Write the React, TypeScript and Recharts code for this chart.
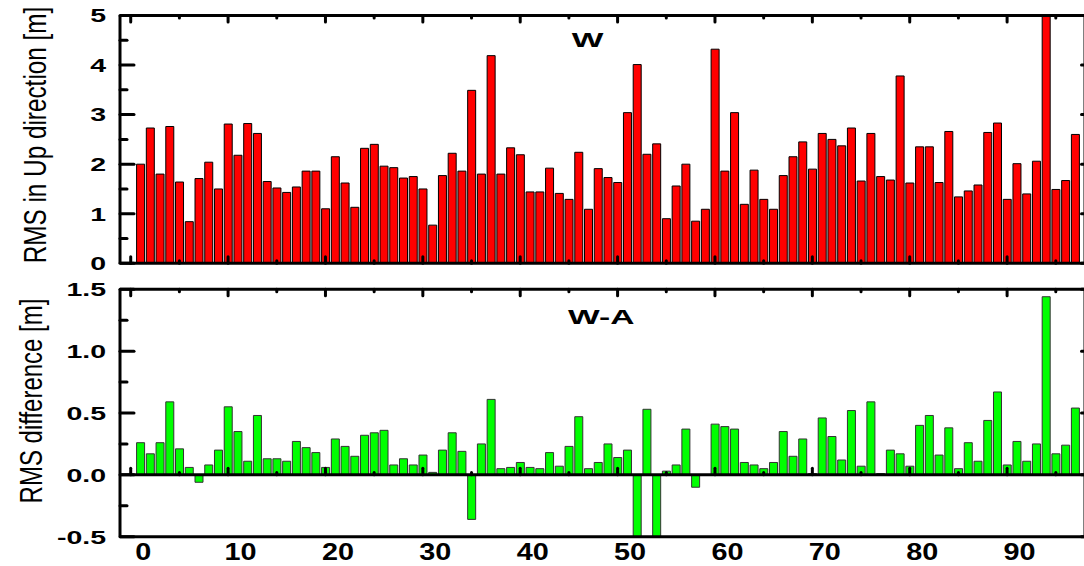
import React from "react";
import { BarChart, Bar, XAxis, YAxis, ReferenceLine } from "recharts";

// RMS in the Up direction, strategy W (one bar per epoch)
const upRms = [
  2.0, 2.73, 1.8, 2.76, 1.64, 0.84, 1.71, 2.04, 1.5, 2.81,
  2.18, 2.82, 2.62, 1.65, 1.52, 1.43, 1.54, 1.86, 1.86, 1.1,
  2.15, 1.62, 1.13, 2.32, 2.4, 1.96, 1.93, 1.72, 1.75, 1.5,
  0.77, 1.77, 2.22, 1.86, 3.49, 1.8, 4.19, 1.8, 2.33, 2.19,
  1.44, 1.44, 1.92, 1.41, 1.29, 2.24, 1.09, 1.91, 1.73, 1.63,
  3.04, 4.01, 2.2, 2.41, 0.9, 1.56, 2.0, 0.85, 1.09, 4.32,
  1.86, 3.04, 1.19, 1.88, 1.29, 1.09, 1.77, 2.15, 2.45, 1.9,
  2.62, 2.5, 2.37, 2.73, 1.66, 2.62, 1.75, 1.68, 3.78, 1.62,
  2.35, 2.35, 1.63, 2.66, 1.34, 1.46, 1.58, 2.64, 2.83, 1.29,
  2.01, 1.4, 2.06, 5.3, 1.49, 1.67, 2.6,
];

// RMS difference W - A
const diffRms = [
  0.26, 0.17, 0.26, 0.59, 0.21, 0.06, -0.06, 0.08, 0.2, 0.55,
  0.35, 0.11, 0.48, 0.13, 0.13, 0.11, 0.27, 0.22, 0.18, 0.06,
  0.29, 0.23, 0.15, 0.32, 0.34, 0.36, 0.08, 0.13, 0.08, 0.16,
  0.02, 0.2, 0.34, 0.19, -0.36, 0.25, 0.61, 0.05, 0.06, 0.1,
  0.06, 0.05, 0.18, 0.07, 0.23, 0.47, 0.05, 0.1, 0.25, 0.14,
  0.2, -0.6, 0.53, -0.6, 0.03, 0.08, 0.37, -0.1, 0.0, 0.41,
  0.39, 0.37, 0.1, 0.08, 0.05, 0.1, 0.35, 0.15, 0.29, 0.01,
  0.46, 0.31, 0.12, 0.52, 0.07, 0.59, 0.01, 0.2, 0.17, 0.07,
  0.4, 0.48, 0.16, 0.38, 0.05, 0.26, 0.11, 0.44, 0.67, 0.08,
  0.27, 0.11, 0.25, 1.44, 0.17, 0.24, 0.54,
];

const epochs = upRms.map((_, i) => i + 1);

const xTicks = [0, 5, 10, 15, 20, 25, 30, 35, 40, 45, 50, 55, 60, 65, 70, 75, 80, 85, 90, 95];
const upTicks = [0, 0.5, 1, 1.5, 2, 2.5, 3, 3.5, 4, 4.5, 5];
const upRightTicks = [0, 1, 2, 3, 4, 5];
const diffTicks = [-0.5, -0.25, 0, 0.25, 0.5, 0.75, 1, 1.25, 1.5];
const diffRightTicks = [-0.5, 0, 0.5, 1, 1.5];

const upData = epochs.map((e, i) => ({ epoch: e, rms: upRms[i] }));
const diffData = epochs.map((e, i) => ({ epoch: e, diff: diffRms[i] }));

const FONT = "'Liberation Sans', Arial, sans-serif";
const ink = { stroke: "#000", strokeWidth: 3, strokeLinecap: "round" as const };
const axisLine = { stroke: "#000", strokeWidth: 3 };
const X_DOMAIN: [number, number] = [-1.1, 98];

const majorX = (v: number) => v % 10 === 0;

const TicksUp = ({ x, y, payload }: any) => (
  <line x1={x} y1={y} x2={x} y2={y - (majorX(payload.value) ? 6.5 : 2.5)} {...ink} />
);

const TicksDown = ({ x, y, payload }: any) => (
  <line x1={x} y1={y} x2={x} y2={y + (majorX(payload.value) ? 6.5 : 2.5)} {...ink} />
);

const XLabel = ({ x, y, payload }: any) =>
  majorX(payload.value) ? (
    <text
      transform={`translate(${x + 12.5},${y + 23}) scale(1.2,1)`}
      textAnchor="middle"
      fontFamily={FONT}
      fontWeight="bold"
      fontSize={24}
      fill="#000"
    >
      {payload.value}
    </text>
  ) : (
    <g />
  );

const leftTick =
  (isMajor: (v: number) => boolean, fmt: (v: number) => string) =>
  ({ x, y, payload }: any) => {
    const v = payload.value;
    const m = isMajor(v);
    return (
      <g>
        <line x1={x} y1={y} x2={x + (m ? 14 : 7)} y2={y} {...ink} />
        {m && (
          <text
            transform={`translate(${x - 14},${y + 6.8}) scale(1.5,1)`}
            textAnchor="end"
            fontFamily={FONT}
            fontWeight="bold"
            fontSize={19}
            fill="#000"
          >
            {fmt(v)}
          </text>
        )}
      </g>
    );
  };

const RightTick = ({ x, y }: any) => <line x1={x} y1={y} x2={x - 3.5} y2={y} {...ink} />;

const upLeftTick = leftTick((v) => Number.isInteger(v), (v) => String(v));
const diffLeftTick = leftTick(
  (v) => Math.abs(v * 2 - Math.round(v * 2)) < 1e-9,
  (v) => v.toFixed(1)
);

export default function App() {
  return (
    <div
      style={{
        position: "absolute",
        left: 0,
        top: 0,
        width: 1084,
        height: 566,
        overflow: "hidden",
        background: "#fff",
      }}
    >
      <div style={{ position: "absolute", left: 0, top: 0 }}>
        <BarChart
          width={1100}
          height={280}
          data={upData}
          margin={{ top: 14.5, right: 0, bottom: 15.7, left: 60 }}
        >
          <XAxis
            dataKey="epoch"
            type="number"
            domain={X_DOMAIN}
            allowDataOverflow
            ticks={xTicks}
            interval={0}
            height={1}
            tickLine={false}
            tickSize={0}
            tickMargin={0}
            axisLine={axisLine}
            tick={TicksUp}
          />
          <XAxis
            xAxisId="top"
            orientation="top"
            dataKey="epoch"
            type="number"
            domain={X_DOMAIN}
            allowDataOverflow
            ticks={xTicks}
            interval={0}
            height={1}
            tickLine={false}
            tickSize={0}
            tickMargin={0}
            axisLine={axisLine}
            tick={TicksDown}
          />
          <YAxis
            type="number"
            domain={[0, 5]}
            allowDataOverflow
            ticks={upTicks}
            interval={0}
            width={60}
            tickLine={false}
            tickSize={0}
            tickMargin={0}
            axisLine={axisLine}
            tick={upLeftTick}
          />
          <YAxis
            yAxisId="right"
            orientation="right"
            type="number"
            domain={[0, 5]}
            allowDataOverflow
            ticks={upRightTicks}
            interval={0}
            width={15}
            tickLine={false}
            tickSize={0}
            tickMargin={0}
            axisLine={axisLine}
            tick={RightTick}
          />
          <Bar
            dataKey="rms"
            fill="#ff0000"
            stroke="#000"
            strokeWidth={1}
            barSize={8}
            isAnimationActive={false}
          />
        </BarChart>
      </div>

      <div style={{ position: "absolute", left: 0, top: 280 }}>
        <BarChart
          width={1100}
          height={286}
          data={diffData}
          margin={{ top: 8.3, right: 0, bottom: 0.3, left: 60 }}
        >
          <XAxis
            dataKey="epoch"
            type="number"
            domain={X_DOMAIN}
            allowDataOverflow
            ticks={xTicks}
            interval={0}
            height={29}
            tickLine={false}
            tickSize={0}
            tickMargin={0}
            axisLine={axisLine}
            tick={XLabel}
          />
          <XAxis
            xAxisId="top"
            orientation="top"
            dataKey="epoch"
            type="number"
            domain={X_DOMAIN}
            allowDataOverflow
            ticks={xTicks}
            interval={0}
            height={1}
            tickLine={false}
            tickSize={0}
            tickMargin={0}
            axisLine={axisLine}
            tick={TicksDown}
          />
          <YAxis
            type="number"
            domain={[-0.5, 1.5]}
            allowDataOverflow
            ticks={diffTicks}
            interval={0}
            width={60}
            tickLine={false}
            tickSize={0}
            tickMargin={0}
            axisLine={axisLine}
            tick={diffLeftTick}
          />
          <YAxis
            yAxisId="right"
            orientation="right"
            type="number"
            domain={[-0.5, 1.5]}
            allowDataOverflow
            ticks={diffRightTicks}
            interval={0}
            width={15}
            tickLine={false}
            tickSize={0}
            tickMargin={0}
            axisLine={axisLine}
            tick={RightTick}
          />
          <Bar
            dataKey="diff"
            fill="#00ff00"
            stroke="#333"
            strokeWidth={1}
            barSize={8}
            isAnimationActive={false}
          />
          <ReferenceLine y={0} stroke="#000" strokeWidth={3} />
          {xTicks.map((t) => (
            <ReferenceLine
              key={t}
              segment={[
                { x: t, y: 0 },
                { x: t, y: majorX(t) ? 0.053 : 0.02 },
              ]}
              stroke="#000"
              strokeWidth={3}
              strokeLinecap="round"
            />
          ))}
        </BarChart>
      </div>

      <svg
        width={1084}
        height={566}
        style={{ position: "absolute", left: 0, top: 0, pointerEvents: "none" }}
      >
        <text
          transform="translate(46,135) rotate(-90) scale(0.76,1)"
          textAnchor="middle"
          fontFamily={FONT}
          fontSize={32}
          fill="#000"
        >
          RMS in Up direction [m]
        </text>
        <text
          transform="translate(42,401) rotate(-90) scale(0.75,1)"
          textAnchor="middle"
          fontFamily={FONT}
          fontSize={32}
          fill="#000"
        >
          RMS difference [m]
        </text>
        <text
          transform="translate(571.7,46.7) scale(1.6,1)"
          fontFamily={FONT}
          fontWeight="bold"
          fontSize={21}
          fill="#000"
        >
          W
        </text>
        <text
          transform="translate(568,324) scale(1.6,1)"
          fontFamily={FONT}
          fontWeight="bold"
          fontSize={21}
          fill="#000"
        >
          W-A
        </text>
      </svg>
    </div>
  );
}
